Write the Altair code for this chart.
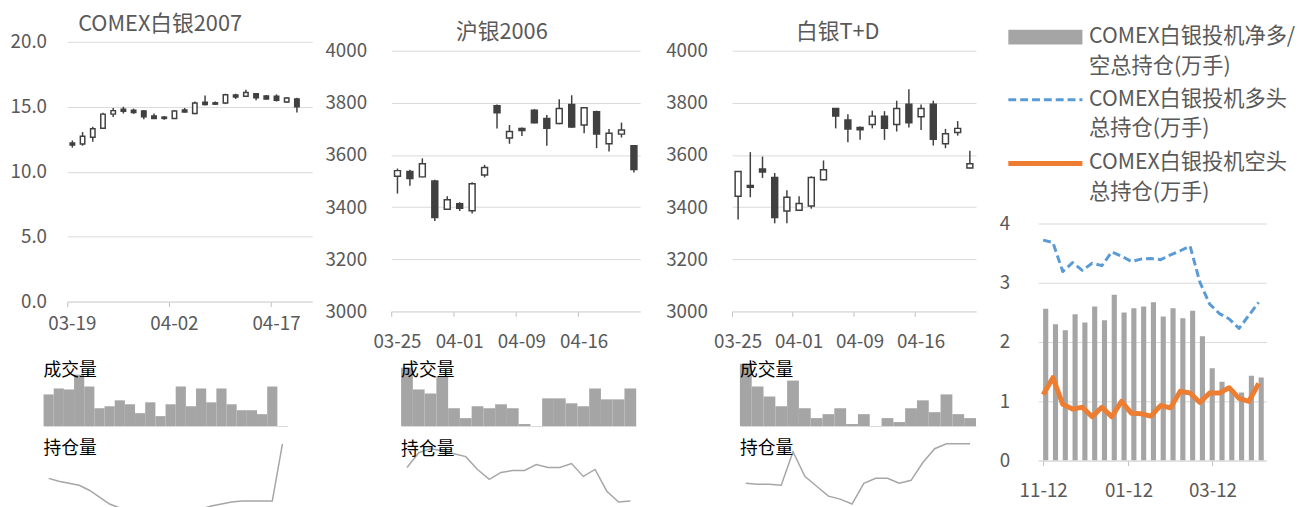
import altair as alt
import pandas as pd

FONT = "Noto Sans CJK SC"
TXT = "#595959"
GRID = "#d9d9d9"
TICK = "#bfbfbf"
DARK = "#404040"
BAR = "#a5a5a5"
OIC = "#a6a6a6"

# ---------------- COMEX白银2007 ----------------
comex_dates = ["03-19", "03-20", "03-23", "03-24", "03-25", "03-26", "03-27", "03-30", "03-31", "04-01",
               "04-02", "04-03", "04-06", "04-07", "04-08", "04-09", "04-13", "04-14", "04-15", "04-16",
               "04-17", "04-20", "04-21", "04-22"]
comex_open = [12.2, 12.13, 12.65, 13.35, 14.43, 14.8, 14.73, 14.68, 14.28, 14.2, 14.1, 14.75, 14.48, 15.35,
              15.3, 15.29, 15.9, 15.8, 16.0, 15.82, 15.8, 15.37, 15.6]
comex_high = [12.4, 13.05, 13.45, 14.53, 14.9, 15.0, 14.85, 14.75, 14.48, 14.28, 14.73, 14.9, 15.4, 15.87,
              15.4, 16.0, 16.0, 16.3, 16.05, 15.9, 15.95, 15.75, 15.7]
comex_low = [11.85, 12.0, 12.3, 13.29, 14.2, 14.48, 14.45, 14.03, 14.05, 14.0, 14.05, 14.55, 14.43, 15.1,
             15.15, 15.2, 15.6, 15.75, 15.5, 15.55, 15.4, 15.3, 14.55]
comex_close = [12.05, 12.72, 13.3, 14.43, 14.7, 14.65, 14.55, 14.23, 14.1, 14.1, 14.68, 14.6, 15.29, 15.18,
               15.2, 15.92, 15.75, 16.1, 15.7, 15.6, 15.5, 15.67, 15.0]
comex_volume = [32, 38, 37, 52, 40, 18, 20, 26, 22, 13, 24, 10, 22, 40, 20, 38, 24, 38, 22, 16, 16, 12, 40]
comex_oi = [38, 35, 33, 31, 26, 19, 12, 8, 5, 2, 0, -1, 0, 2, 4, 7, 10, 12, 14, 15, 15, 15, 15, 73]
comex_ticks = ["03-19", "04-02", "04-17"]

# ---------------- 沪银2006 / 白银T+D ----------------
cn_dates = ["03-25", "03-26", "03-27", "03-30", "03-31", "04-01", "04-02", "04-03", "04-07", "04-08",
            "04-09", "04-10", "04-13", "04-14", "04-15", "04-16", "04-17", "04-20", "04-21", "04-22"]
cn_ticks = ["03-25", "04-01", "04-09", "04-16"]

shfe_open = [3518, 3537, 3516, 3500, 3392, 3413, 3386, 3523, 3789, 3665, 3702, 3772, 3740, 3721, 3794,
             3715, 3766, 3643, 3680, 3635]
shfe_high = [3548, 3543, 3587, 3505, 3442, 3419, 3495, 3562, 3794, 3715, 3705, 3776, 3753, 3814, 3829,
             3784, 3770, 3700, 3724, 3637]
shfe_low = [3452, 3482, 3514, 3347, 3390, 3385, 3376, 3514, 3702, 3643, 3673, 3721, 3635, 3718, 3704,
            3683, 3626, 3613, 3667, 3533]
shfe_close = [3540, 3510, 3566, 3360, 3428, 3396, 3490, 3552, 3762, 3690, 3694, 3724, 3702, 3778, 3707,
              3781, 3680, 3683, 3696, 3544]
shfe_volume = [59, 37, 33, 50, 18, 8, 20, 18, 22, 18, 2, 0, 28, 28, 23, 20, 38, 27, 27, 38]
shfe_oi = [49, 64, 68, 66, 63, 60, 47, 37, 44, 46, 46, 52, 49, 49, 53, 40, 47, 25, 14, 15]

sge_open = [3442, 3483, 3546, 3514, 3385, 3388, 3404, 3505, 3778, 3734, 3705, 3717, 3749, 3717, 3795,
            3747, 3795, 3643, 3686, 3550]
sge_high = [3538, 3611, 3594, 3531, 3465, 3442, 3518, 3579, 3780, 3756, 3709, 3770, 3768, 3808, 3852,
            3794, 3808, 3700, 3730, 3616]
sge_low = [3353, 3438, 3512, 3338, 3338, 3385, 3394, 3503, 3702, 3649, 3658, 3702, 3658, 3690, 3705,
           3696, 3636, 3626, 3674, 3549]
sge_close = [3537, 3476, 3535, 3360, 3438, 3414, 3514, 3543, 3749, 3700, 3697, 3749, 3702, 3778, 3724,
             3778, 3660, 3681, 3702, 3566]
sge_volume = [63, 40, 30, 20, 46, 18, 8, 12, 18, 2, 12, 0, 8, 4, 18, 26, 14, 32, 12, 8]
sge_oi = [33, 32, 32, 31, 65, 40, 30, 20, 17, 12, 33, 38, 38, 33, 36, 54, 68, 73, 73, 73]

# ---------------- COMEX 投机持仓 (万手) ----------------
cot_dates = ["2019-11-12", "2019-11-19", "2019-11-26", "2019-12-03", "2019-12-10", "2019-12-17",
             "2019-12-24", "2019-12-31", "2020-01-07", "2020-01-14", "2020-01-21", "2020-01-28",
             "2020-02-04", "2020-02-11", "2020-02-18", "2020-02-25", "2020-03-03", "2020-03-10",
             "2020-03-17", "2020-03-24", "2020-03-31", "2020-04-07", "2020-04-14"]
cot_net = [2.56, 2.30, 2.20, 2.47, 2.33, 2.60, 2.37, 2.80, 2.50, 2.57, 2.60, 2.67, 2.43, 2.57, 2.40,
           2.53, 2.10, 1.56, 1.33, 1.18, 1.15, 1.43, 1.40]
cot_long = [3.72, 3.68, 3.19, 3.34, 3.21, 3.33, 3.29, 3.52, 3.45, 3.36, 3.40, 3.41, 3.39, 3.47, 3.54,
            3.62, 3.01, 2.64, 2.48, 2.39, 2.23, 2.45, 2.67]
cot_short = [1.11, 1.40, 0.95, 0.87, 0.90, 0.74, 0.90, 0.74, 1.00, 0.80, 0.79, 0.75, 0.93, 0.89, 1.17,
             1.14, 0.98, 1.14, 1.14, 1.23, 1.05, 1.00, 1.30]
name_net = "COMEX白银投机净多/\n空总持仓(万手)"
name_long = "COMEX白银投机多头\n总持仓(万手)"
name_short = "COMEX白银投机空头\n总持仓(万手)"
line_names = [name_long, name_short]

LABEL_FS = 19


def candle_chart(dates, o, h, l, c, title, ydomain, yvalues, yformat, width, height, yrange,
                 body, xvalues, extent, lpad, xlpad, tdx, toff):
    df = pd.DataFrame({"day": dates[:len(o)], "open": o, "high": h, "low": l, "close": c})
    xscale = alt.Scale(domain=dates, paddingInner=0, paddingOuter=0)
    xaxis = alt.Axis(values=xvalues, bandPosition=0, labelAngle=0, labelOverlap=False,
                     labelFontSize=LABEL_FS, labelColor=TXT, labelPadding=xlpad, domainColor=GRID,
                     domainWidth=1, tickColor=TICK, tickSize=5, tickWidth=1, grid=False)
    yargs = dict(domain=ydomain, nice=False, zero=False)
    if yrange is not None:
        yargs["range"] = yrange
    yaxis = alt.Axis(values=yvalues, format=yformat, grid=True, gridColor=GRID, gridWidth=1,
                     domain=False, ticks=False, labelPadding=lpad, minExtent=extent,
                     labelFontSize=LABEL_FS, labelColor=TXT)
    base = alt.Chart(df)
    wick = base.mark_rule(color=DARK, strokeWidth=1.5).encode(
        x=alt.X("day:O", scale=xscale, axis=xaxis, title=None),
        y=alt.Y("low:Q", scale=alt.Scale(**yargs), axis=yaxis, title=None),
        y2="high:Q",
    )
    bodies = base.mark_bar(size=body, stroke=DARK, strokeWidth=1.5).encode(
        x=alt.X("day:O", title=None),
        y=alt.Y("open:Q", title=None),
        y2="close:Q",
        fill=alt.condition("datum.close >= datum.open", alt.value("#ffffff"), alt.value(DARK)),
    )
    return alt.layer(wick, bodies).properties(
        width=width, height=height,
        title=alt.TitleParams(title, anchor="middle", frame="group", dx=tdx, offset=toff,
                              fontSize=22, color=TXT, fontWeight="normal"),
    )


def volume_chart(dates, vals, xrange, width, height, ymax, tdx, toff):
    df = pd.DataFrame({"day": dates[:len(vals)], "vol": vals})
    return alt.Chart(df).mark_bar(color=BAR).encode(
        x=alt.X("day:O", title=None,
                scale=alt.Scale(domain=dates, range=xrange, paddingInner=0, paddingOuter=0),
                axis=alt.Axis(labels=False, ticks=False, grid=False, domainColor=GRID, domainWidth=1)),
        y=alt.Y("vol:Q", scale=alt.Scale(domain=[0, ymax]), axis=None),
    ).properties(
        width=width, height=height,
        title=alt.TitleParams("成交量", anchor="start", frame="group", dx=tdx, offset=toff,
                              fontSize=18, color="#000000", fontWeight="normal"),
    )


def oi_chart(dates, vals, xrange, width, height, ydomain, tdx, toff):
    df = pd.DataFrame({"day": dates[:len(vals)], "oi": vals})
    return alt.Chart(df).mark_line(color=OIC, strokeWidth=1.5).encode(
        x=alt.X("day:O", title=None,
                scale=alt.Scale(domain=dates, range=xrange, paddingInner=0, paddingOuter=0), axis=None),
        y=alt.Y("oi:Q", scale=alt.Scale(domain=ydomain, nice=False, zero=False), axis=None),
    ).properties(
        width=width, height=height,
        title=alt.TitleParams("持仓量", anchor="start", frame="group", dx=tdx, offset=toff,
                              fontSize=18, color="#000000", fontWeight="normal"),
    )


c1 = candle_chart(comex_dates, comex_open, comex_high, comex_low, comex_close, "COMEX白银2007",
                  [0, 20], [0, 5, 10, 15, 20], ".1f", 248, 263, None, 4.5, comex_ticks,
                  60, 21, 8, -30, -3)
v1 = volume_chart(comex_dates, comex_volume, [-24, 223], 223, 110, 110, -24, -63.6)
o1 = oi_chart(comex_dates, comex_oi, [-24, 223], 223, 80, [-5, 75], -24, -17.6)

c2 = candle_chart(cn_dates, shfe_open, shfe_high, shfe_low, shfe_close, "沪银2006",
                  [3000, 4000], [3000, 3200, 3400, 3600, 3800, 4000], "d", 252, 273, [273, 9], 6,
                  cn_ticks, 75, 25, 17, -14, -2)
v2 = volume_chart(cn_dates, shfe_volume, [10, 248], 248, 100, 100, 10, -53.6)
o2 = oi_chart(cn_dates, shfe_oi, [10, 248], 248, 80, [-5, 75], 10, -17.6)

c3 = candle_chart(cn_dates, sge_open, sge_high, sge_low, sge_close, "白银T+D",
                  [3000, 4000], [3000, 3200, 3400, 3600, 3800, 4000], "d", 247, 273, [273, 9], 6,
                  cn_ticks, 88, 25, 17, -16.5, -2)
v3 = volume_chart(cn_dates, sge_volume, [8, 247], 247, 100, 100, 8, -53.6)
o3 = oi_chart(cn_dates, sge_oi, [8, 247], 247, 80, [-5, 75], 8, -17.6)

col1 = alt.vconcat(c1, v1, o1, spacing=16, bounds="flush")
col2 = alt.vconcat(c2, v2, o2, spacing=16, bounds="flush")
col3 = alt.vconcat(c3, v3, o3, spacing=16, bounds="flush")

# ---------------- panel 4 ----------------
net_df = pd.DataFrame({"date": cot_dates, "value": cot_net, "series": name_net})
lines_df = pd.concat([
    pd.DataFrame({"date": cot_dates, "value": cot_long, "series": name_long}),
    pd.DataFrame({"date": cot_dates, "value": cot_short, "series": name_short}),
])

xs = alt.Scale(type="utc", domain=[alt.DateTime(year=2019, month=11, date=12, utc=True),
                                   alt.DateTime(year=2020, month=4, date=16, utc=True)])
x_axis4 = alt.Axis(values=[alt.DateTime(year=2019, month=11, date=12, utc=True),
                           alt.DateTime(year=2020, month=1, date=12, utc=True),
                           alt.DateTime(year=2020, month=3, date=12, utc=True)],
                   format="%m-%d", labelFontSize=LABEL_FS, labelColor=TXT, labelPadding=16,
                   domainColor=GRID, tickColor=TICK, tickSize=5, grid=False, labelOverlap=False)
ys = alt.Scale(domain=[0, 4], nice=False, range=[424, 184])
y_axis4 = alt.Axis(values=[0, 1, 2, 3, 4], format="d", grid=True, gridColor=GRID, domain=False,
                   ticks=False, labelPadding=29, minExtent=58, labelFontSize=LABEL_FS, labelColor=TXT)

legend_common = dict(orient="none", direction="vertical", title=None, labelFontSize=21.5,
                     labelColor=TXT, labelLimit=400, symbolSize=25, labelOffset=33.5,
                     rowPadding=11.5, padding=0, labelBaseline="middle",
                     labelExpr="split(datum.label, '\\n')")
legend_net = alt.Legend(legendX=-3.5, legendY=-15.5, symbolType="M-15,-3H15V3H-15Z",
                        symbolStrokeWidth=0, **legend_common)
legend_lines = alt.Legend(legendX=-3.5, legendY=48, symbolType="M-15,0H15", **legend_common)

bars4 = alt.Chart(net_df).mark_bar(size=5.2, xOffset=2.6, clip=True).encode(
    x=alt.X("date:T", scale=xs, axis=x_axis4, title=None),
    y=alt.Y("value:Q", scale=ys, axis=y_axis4, title=None),
    fill=alt.Fill("series:N", scale=alt.Scale(domain=[name_net], range=[BAR]), legend=legend_net),
)
lines4 = alt.Chart(lines_df).mark_line(strokeJoin="round", clip=True).encode(
    x=alt.X("date:T", title=None),
    y=alt.Y("value:Q", title=None),
    color=alt.Color("series:N", scale=alt.Scale(domain=line_names, range=["#5b9bd5", "#ed7d31"]),
                    legend=legend_lines),
    strokeDash=alt.StrokeDash("series:N", scale=alt.Scale(domain=line_names, range=[[8, 4], [1, 0]]),
                              legend=legend_lines),
    strokeWidth=alt.StrokeWidth("series:N", scale=alt.Scale(domain=line_names, range=[3, 5]),
                                legend=legend_lines),
)
col4 = alt.layer(bars4, lines4).properties(width=231, height=424)

chart = alt.hconcat(col1, col2, col3, col4, spacing=5).resolve_legend(
    color="independent", strokeDash="independent", strokeWidth="independent", fill="independent"
).properties(
    padding={"left": 0, "top": 2, "right": 0, "bottom": 0}
).configure(
    font=FONT, style={"guide-label": {"lineHeight": 30}}
).configure_view(stroke=None)

chart.save("out.html", embed_options={"renderer": "svg", "actions": False})
